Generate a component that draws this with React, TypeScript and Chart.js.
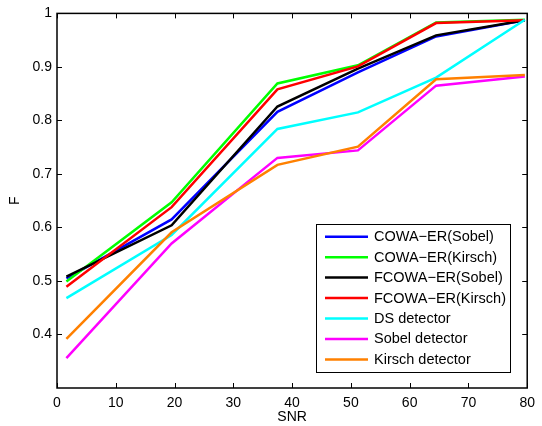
import React, { useEffect, useRef } from "react";
import { Chart, registerables } from "chart.js";

Chart.register(...registerables);

const snr = [1.6, 19.5, 37.5, 51.2, 64.5, 79.6];
const cowaSobel = [0.505, 0.615, 0.816, 0.89, 0.957, 0.987];
const cowaKirsch = [0.499, 0.647, 0.869, 0.903, 0.983, 0.988];
const fcowaSobel = [0.508, 0.604, 0.826, 0.897, 0.959, 0.987];
const fcowaKirsch = [0.489, 0.638, 0.858, 0.901, 0.982, 0.987];
const dsDetector = [0.468, 0.586, 0.784, 0.815, 0.88, 0.988];
const sobelDetector = [0.356, 0.57, 0.73, 0.744, 0.865, 0.882];
const kirschDetector = [0.392, 0.591, 0.717, 0.751, 0.877, 0.885];

const seriesNames = [
  "COWA\u2212ER(Sobel)",
  "COWA\u2212ER(Kirsch)",
  "FCOWA\u2212ER(Sobel)",
  "FCOWA\u2212ER(Kirsch)",
  "DS detector",
  "Sobel detector",
  "Kirsch detector",
];
const seriesValues = [cowaSobel, cowaKirsch, fcowaSobel, fcowaKirsch, dsDetector, sobelDetector, kirschDetector];
const seriesColors = ["#0000ff", "#00ff00", "#000000", "#ff0000", "#00ffff", "#ff00ff", "#ff8000"];

const xTicks = [0, 10, 20, 30, 40, 50, 60, 70, 80];
const yTicks = [0.4, 0.5, 0.6, 0.7, 0.8, 0.9, 1];

const FONT = "'Liberation Sans', Arial, Helvetica, sans-serif";

const framePlugin = {
  id: "matlabFrame",
  afterDraw(chart: any) {
    const { ctx, chartArea: a, scales } = chart;
    const xs = scales.x;
    const ys = scales.y;
    ctx.save();
    ctx.strokeStyle = "#000";
    ctx.lineWidth = 1;
    ctx.beginPath();
    const tl = 5;
    xTicks.forEach((v) => {
      const px = Math.round(xs.getPixelForValue(v)) + 0.5;
      ctx.moveTo(px, a.bottom);
      ctx.lineTo(px, a.bottom - tl);
      ctx.moveTo(px, a.top);
      ctx.lineTo(px, a.top + tl);
    });
    yTicks.forEach((v) => {
      const py = Math.round(ys.getPixelForValue(v)) + 0.5;
      ctx.moveTo(a.left, py);
      ctx.lineTo(a.left + tl, py);
      ctx.moveTo(a.right, py);
      ctx.lineTo(a.right - tl, py);
    });
    ctx.stroke();
    ctx.lineWidth = 1.5;
    ctx.strokeRect(a.left, a.top, a.right - a.left, a.bottom - a.top);

    // legend box
    const bx = 316, by = 224, bw = 194, bh = 148;
    ctx.fillStyle = "#fff";
    ctx.fillRect(bx, by, bw, bh);
    ctx.lineWidth = 1;
    ctx.strokeRect(bx + 0.5, by + 0.5, bw, bh);
    ctx.font = `14.5px ${FONT}`;
    ctx.textBaseline = "middle";
    ctx.textAlign = "left";
    seriesNames.forEach((name, i) => {
      const y = by + 12.7 + i * 20.45;
      ctx.strokeStyle = seriesColors[i];
      ctx.lineWidth = 2.5;
      ctx.beginPath();
      ctx.moveTo(325, y);
      ctx.lineTo(368, y);
      ctx.stroke();
      ctx.fillStyle = "#000";
      ctx.fillText(name, 374, y + 0.5);
    });
    ctx.restore();
  },
};

export default function App() {
  const ref = useRef<HTMLCanvasElement | null>(null);
  useEffect(() => {
    if (!ref.current) return;
    const chart = new Chart(ref.current, {
      type: "line",
      data: {
        datasets: seriesNames.map((name, i) => ({
          label: name,
          data: snr.map((x, j) => ({ x, y: seriesValues[i][j] })),
          borderColor: seriesColors[i],
          backgroundColor: seriesColors[i],
          borderWidth: 2.5,
          pointRadius: 0,
          tension: 0,
          fill: false,
          order: seriesNames.length - i,
        })),
      },
      options: {
        animation: false,
        responsive: false,
        maintainAspectRatio: false,
        layout: { padding: { left: 0, top: 12, right: 9, bottom: 0 } },
        plugins: { legend: { display: false }, tooltip: { enabled: false } },
        scales: {
          x: {
            type: "linear",
            min: 0,
            max: 80,
            afterBuildTicks: (s: any) => {
              s.ticks = xTicks.map((v) => ({ value: v }));
            },
            afterFit: (s: any) => {
              s.height = 38;
            },
            grid: { display: false, drawTicks: false },
            border: { display: false },
            ticks: {
              color: "#000",
              font: { family: FONT, size: 14 },
              padding: 7,
              maxRotation: 0,
              callback: (v: any) => String(v),
            },
            title: {
              display: true,
              text: "SNR",
              color: "#000",
              font: { family: FONT, size: 14 },
              padding: { top: 0, bottom: 0 },
            },
          },
          y: {
            type: "linear",
            min: 0.3,
            max: 1,
            afterBuildTicks: (s: any) => {
              s.ticks = yTicks.map((v) => ({ value: v }));
            },
            afterFit: (s: any) => {
              s.width = 57;
            },
            grid: { display: false, drawTicks: false },
            border: { display: false },
            ticks: {
              color: "#000",
              font: { family: FONT, size: 14 },
              padding: 5,
              callback: (v: any) => String(Math.round(v * 10) / 10),
            },
            title: {
              display: true,
              text: "F",
              color: "#000",
              font: { family: FONT, size: 14 },
              padding: { top: 7, bottom: 0 },
            },
          },
        },
      },
      plugins: [framePlugin],
    });
    return () => chart.destroy();
  }, []);
  return (
    <div style={{ position: "fixed", left: 0, top: 0, width: 542, height: 426, background: "#fff" }}>
      <canvas ref={ref} width={542} height={426} style={{ width: 542, height: 426 }} />
    </div>
  );
}
